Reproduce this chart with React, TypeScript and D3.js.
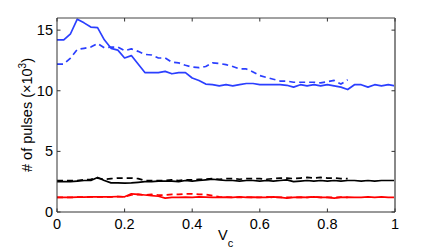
import React from 'react';
import * as d3 from 'd3';

// V_c sample positions
const vcSolid = [
  0, 0.02, 0.04, 0.06, 0.08, 0.1, 0.12, 0.14, 0.16, 0.18, 0.2, 0.22, 0.24, 0.26, 0.28, 0.3, 0.32,
  0.34, 0.36, 0.38, 0.4, 0.42, 0.44, 0.46, 0.48, 0.5, 0.52, 0.54, 0.56, 0.58, 0.6, 0.62, 0.64,
  0.66, 0.68, 0.7, 0.72, 0.74, 0.76, 0.78, 0.8, 0.82, 0.84, 0.86, 0.88, 0.9, 0.92, 0.94, 0.96,
  0.98, 1,
];
const vcDashed = vcSolid.slice(0, 44);

// pulse counts (x10^3)
const blueSolid = [
  14.2, 14.2, 14.7, 15.9, 15.6, 15.25, 15.2, 14.2, 13.5, 13.35, 12.7, 12.9, 12.2, 11.5, 11.5,
  11.5, 11.6, 11.4, 11.5, 11.5, 11.05, 10.85, 10.55, 10.5, 10.4, 10.5, 10.4, 10.5, 10.6, 10.6,
  10.5, 10.5, 10.5, 10.5, 10.45, 10.3, 10.5, 10.4, 10.5, 10.4, 10.5, 10.4, 10.3, 10.1, 10.5,
  10.5, 10.3, 10.5, 10.4, 10.5, 10.4,
];
const blueDashed = [
  12.2, 12.2, 12.7, 13.4, 13.5, 13.6, 13.9, 13.55, 13.6, 13.6, 13.3, 13.45, 13.25, 13.0, 12.95,
  12.7, 12.7, 12.35, 12.3, 12.1, 11.95, 11.9, 12.0, 12.3, 12.25, 12.15, 12.0, 11.8, 11.8, 11.55,
  11.25, 11.1, 10.95, 10.8, 10.8, 10.7, 10.7, 10.7, 10.7, 10.65, 10.75, 10.85, 10.55, 10.9,
];
const blackSolid = [
  2.5, 2.5, 2.5, 2.55, 2.6, 2.6, 2.85, 2.6, 2.4, 2.4, 2.38, 2.4, 2.45, 2.5, 2.5, 2.55, 2.55,
  2.55, 2.5, 2.6, 2.55, 2.6, 2.65, 2.7, 2.65, 2.6, 2.6, 2.55, 2.6, 2.6, 2.55, 2.6, 2.55, 2.6,
  2.65, 2.5, 2.55, 2.6, 2.55, 2.6, 2.55, 2.6, 2.55, 2.6, 2.6, 2.55, 2.6, 2.55, 2.6, 2.6, 2.6,
];
const blackDashed = [
  2.6, 2.6, 2.6, 2.6, 2.65, 2.7, 2.8, 2.7, 2.75, 2.8, 2.8, 2.8, 2.75, 2.6, 2.6, 2.6, 2.6, 2.65,
  2.6, 2.65, 2.65, 2.7, 2.7, 2.75, 2.7, 2.75, 2.75, 2.7, 2.75, 2.75, 2.75, 2.7, 2.75, 2.8, 2.8,
  2.75, 2.8, 2.85, 2.8, 2.85, 2.8, 2.8, 2.75, 2.75,
];
const redSolid = [
  1.2, 1.2, 1.2, 1.22, 1.22, 1.25, 1.25, 1.25, 1.25, 1.28, 1.25, 1.5, 1.45, 1.4, 1.35, 1.3, 1.15,
  1.2, 1.2, 1.22, 1.2, 1.25, 1.22, 1.2, 1.2, 1.22, 1.2, 1.25, 1.2, 1.22, 1.2, 1.2, 1.25, 1.2,
  1.15, 1.2, 1.22, 1.2, 1.25, 1.2, 1.2, 1.15, 1.2, 1.22, 1.2, 1.2, 1.25, 1.2, 1.25, 1.2, 1.2,
];
const redDashed = [
  1.2, 1.2, 1.2, 1.22, 1.22, 1.25, 1.25, 1.25, 1.25, 1.28, 1.25, 1.4, 1.45, 1.4, 1.45, 1.4, 1.4,
  1.45, 1.45, 1.5, 1.5, 1.45, 1.45, 1.35, 1.25, 1.22, 1.2, 1.2, 1.22, 1.2, 1.2, 1.25, 1.2, 1.2,
  1.2, 1.22, 1.2, 1.2, 1.25, 1.2, 1.2, 1.2, 1.22, 1.2,
];

const xTicks = [0, 0.2, 0.4, 0.6, 0.8, 1];
const yTicks = [0, 5, 10, 15];

const series = [
  { x: vcDashed, y: blueDashed, color: '#2b3fff', dash: '6,4' },
  { x: vcSolid, y: blueSolid, color: '#2b3fff', dash: null },
  { x: vcDashed, y: blackDashed, color: '#000000', dash: '6,4' },
  { x: vcSolid, y: blackSolid, color: '#000000', dash: null },
  { x: vcDashed, y: redDashed, color: '#ff0000', dash: '6,4' },
  { x: vcSolid, y: redSolid, color: '#ff0000', dash: null },
];

const W = 436;
const H = 251;
const margin = { left: 57, right: 41, top: 18, bottom: 39 };

export default function App() {
  const x = d3.scaleLinear().domain([0, 1]).range([margin.left, W - margin.right]);
  const y = d3.scaleLinear().domain([0, 16]).range([H - margin.bottom, margin.top]);
  const line = d3
    .line<[number, number]>()
    .x((d) => x(d[0]))
    .y((d) => y(d[1]));

  const x0 = x(0);
  const x1 = x(1);
  const y0 = y(0);
  const y1 = y(16);
  const font = 'Liberation Sans, Arial, Helvetica, sans-serif';

  return (
    <svg
      width={W}
      height={H}
      style={{ position: 'absolute', left: 0, top: 0, display: 'block', background: '#fff' }}
      fontFamily={font}
    >
      <rect x={0} y={0} width={W} height={H} fill="#fff" />
      {series.map((s, i) => (
        <path
          key={i}
          d={line(s.x.map((v, j) => [v, s.y[j]] as [number, number])) || ''}
          fill="none"
          stroke={s.color}
          strokeWidth={1.7}
          strokeDasharray={s.dash || undefined}
          strokeLinejoin="round"
        />
      ))}
      {/* axes box */}
      <line x1={x0} x2={x1} y1={y1} y2={y1} stroke="#444" strokeWidth={1} />
      <line x1={x1} x2={x1} y1={y1} y2={y0} stroke="#888" strokeWidth={2} />
      <line x1={x0} x2={x0} y1={y1} y2={y0} stroke="#333" strokeWidth={1} />
      <line x1={x0} x2={x1} y1={y0} y2={y0} stroke="#333" strokeWidth={1} />
      {xTicks.map((t) => (
        <g key={'x' + t}>
          <line x1={x(t)} x2={x(t)} y1={y0} y2={y0 - 3.5} stroke="#333" />
          <line x1={x(t)} x2={x(t)} y1={y1} y2={y1 + 3.5} stroke="#333" />
          <text x={x(t)} y={y0 + 17} fontSize={14.5} textAnchor="middle" fill="#000">
            {String(t)}
          </text>
        </g>
      ))}
      {yTicks.map((t) => (
        <g key={'y' + t}>
          <line x1={x0} x2={x0 + 3.5} y1={y(t)} y2={y(t)} stroke="#333" />
          <line x1={x1} x2={x1 - 3.5} y1={y(t)} y2={y(t)} stroke="#333" />
          <text x={x0 - 4} y={y(t) + 5} fontSize={14.5} textAnchor="end" fill="#000">
            {String(t)}
          </text>
        </g>
      ))}
      <text x={218} y={240} fontSize={14.5} fill="#000">
        V
        <tspan fontSize={11} dy={7}>
          c
        </tspan>
      </text>
      <text
        transform={`translate(32,${(y0 + y1) / 2}) rotate(-90)`}
        fontSize={14.5}
        textAnchor="middle"
        fill="#000"
      >
        # of pulses (×10
        <tspan fontSize={10} dy={-6}>
          3
        </tspan>
        <tspan dy={6}>)</tspan>
      </text>
    </svg>
  );
}
